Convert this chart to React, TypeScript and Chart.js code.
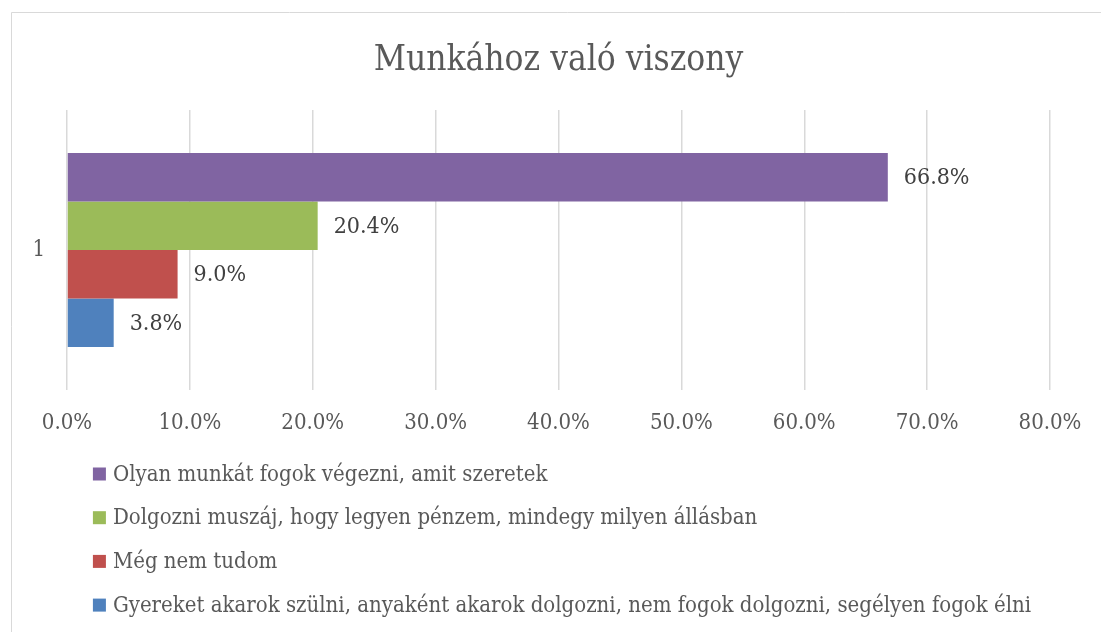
import { useEffect, useRef } from 'react';
import { Chart, registerables } from 'chart.js';

Chart.register(...registerables);

const chartTitle = 'Munkához való viszony';
const categories = ['1'];
const seriesNames = [
  'Olyan munkát fogok végezni, amit szeretek',
  'Dolgozni muszáj, hogy legyen pénzem, mindegy milyen állásban',
  'Még nem tudom',
  'Gyereket akarok szülni, anyaként akarok dolgozni, nem fogok dolgozni, segélyen fogok élni',
];
const olyanMunkatValues = [66.8];
const dolgozniMuszajValues = [20.4];
const megNemTudomValues = [9.0];
const gyereketValues = [3.8];
const seriesColors = ['#8064A2', '#9BBB59', '#C0504D', '#4F81BD'];
const axisMin = 0;
const axisMax = 80;
const axisStep = 10;

const FONT = "'DejaVu Serif Condensed', 'DejaVu Serif', serif";
const TEXT_COLOR = '#595959';
const LABEL_COLOR = '#404040';
const GRID_COLOR = '#d9d9d9';

const borderPlugin = {
  id: 'outerBorder',
  beforeDraw(chart: any) {
    const { ctx, width, height } = chart;
    ctx.save();
    ctx.fillStyle = '#ffffff';
    ctx.fillRect(0, 0, width, height);
    ctx.strokeStyle = GRID_COLOR;
    ctx.lineWidth = 1;
    ctx.beginPath();
    ctx.moveTo(11.5, height);
    ctx.lineTo(11.5, 12.5);
    ctx.lineTo(width, 12.5);
    ctx.stroke();
    ctx.restore();
  },
};

const dataLabelPlugin = {
  id: 'valueLabels',
  afterDatasetsDraw(chart: any) {
    const { ctx } = chart;
    ctx.save();
    ctx.font = `23px ${FONT}`;
    ctx.fillStyle = LABEL_COLOR;
    ctx.textAlign = 'left';
    ctx.textBaseline = 'middle';
    chart.data.datasets.forEach((ds: any, i: number) => {
      const meta = chart.getDatasetMeta(i);
      meta.data.forEach((bar: any, j: number) => {
        const v = ds.data[j];
        ctx.fillText(`${Number(v).toFixed(1)}%`, bar.x + 16, bar.y + 1);
      });
    });
    ctx.restore();
  },
};

const legendPlugin = {
  id: 'stackedLegend',
  afterDraw(chart: any) {
    const { ctx, chartArea } = chart;
    const box = 13;
    const gap = 7;
    const rowStart = 84;
    const rowStep = 43.7;
    ctx.save();
    ctx.font = `22px ${FONT}`;
    ctx.textAlign = 'left';
    ctx.textBaseline = 'middle';
    const items = chart.data.datasets.map((ds: any) => ({ text: ds.label, color: ds.backgroundColor }));
    const widths = items.map((it: any) => box + gap + ctx.measureText(it.text).width);
    const maxW = Math.max(...widths);
    const left = chart.width / 2 - maxW / 2;
    items.forEach((it: any, i: number) => {
      const cy = chartArea.bottom + rowStart + i * rowStep;
      ctx.fillStyle = it.color;
      ctx.fillRect(left, cy - box / 2, box, box);
      ctx.fillStyle = TEXT_COLOR;
      ctx.fillText(it.text, left + box + gap, cy + 1);
    });
    ctx.restore();
  },
};

export default function App() {
  const ref = useRef<HTMLCanvasElement | null>(null);

  useEffect(() => {
    if (!ref.current) return;
    const seriesValues = [olyanMunkatValues, dolgozniMuszajValues, megNemTudomValues, gyereketValues];
    const chart = new Chart(ref.current, {
      type: 'bar',
      data: {
        labels: categories,
        datasets: seriesNames.map((name, i) => ({
          label: name,
          data: seriesValues[i],
          backgroundColor: seriesColors[i],
          borderWidth: 0,
          categoryPercentage: 0.693,
          barPercentage: 1,
        })),
      },
      options: {
        indexAxis: 'y',
        responsive: false,
        animation: false,
        layout: { padding: { left: 12, right: 74, top: 13, bottom: 204 } },
        plugins: {
          legend: { display: false },
          tooltip: { enabled: false },
          title: {
            display: true,
            fullSize: false,
            text: chartTitle,
            color: TEXT_COLOR,
            font: { family: FONT, size: 35, weight: 'normal', lineHeight: 1.2 },
            padding: { top: 27, bottom: 28 },
          },
        },
        scales: {
          x: {
            type: 'linear',
            min: axisMin,
            max: axisMax,
            grid: { color: GRID_COLOR, lineWidth: 1.5, drawTicks: false },
            border: { display: false },
            ticks: {
              stepSize: axisStep,
              color: TEXT_COLOR,
              font: { family: FONT, size: 22, lineHeight: 1.2 },
              padding: 20,
              callback: (v: any) => `${Number(v).toFixed(1)}%`,
            },
            afterFit: (s: any) => {
              s.height = 46;
            },
          },
          y: {
            type: 'category',
            grid: { display: false, drawTicks: false },
            border: { display: false },
            ticks: { color: TEXT_COLOR, font: { family: FONT, size: 22, lineHeight: 1.2 }, padding: 22 },
            afterFit: (s: any) => {
              s.width = 55;
            },
          },
        },
      } as any,
      plugins: [borderPlugin, dataLabelPlugin, legendPlugin],
    });
    return () => chart.destroy();
  }, []);

  return (
    <canvas
      ref={ref}
      width={1124}
      height={640}
      style={{ position: 'fixed', left: 0, top: 0, width: 1124, height: 640, display: 'block' }}
    />
  );
}
